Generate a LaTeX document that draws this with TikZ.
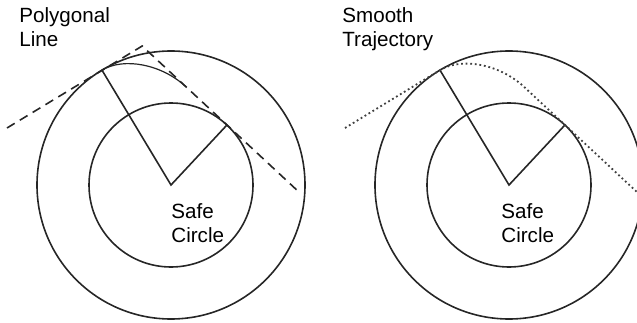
\documentclass[tikz,border=0pt]{standalone}
\usepackage{fontspec}
\setmainfont{Liberation Sans}
\usetikzlibrary{calc}

\begin{document}
\begin{tikzpicture}[
    x=0.5pt, y=0.5pt,
    font=\fontsize{10.3}{12}\selectfont,
    ring/.style={draw=black!85, line width=0.8pt},
    spoke/.style={draw=black!85, line width=0.8pt},
    polyline/.style={draw=black!85, line width=0.8pt, dash pattern=on 4.5pt off 3pt},
    smoothline/.style={draw=black!75, line width=0.9pt, dash pattern=on 0.9pt off 1.4pt},
    arcline/.style={draw=black!85, line width=0.6pt},
    tag/.style={align=left, anchor=base west, inner sep=0pt}
]
    \useasboundingbox (0,0) rectangle (637,322);
    \clip (0,0) rectangle (637,322);

    % Left panel: polygonal line
    \coordinate (c1) at (171,137);
    \coordinate (out1) at ($(c1)+(121:134)$);
    \coordinate (in1) at ($(c1)+(47:82)$);
    \coordinate (bend1) at ($(c1)+(-28.8,139)$);
    \coordinate (start1) at ($(c1)+(-164,57)$);
    \coordinate (end1) at ($(c1)+(129,-8)$);
    \coordinate (join1) at ($(c1)+(15.1,98.1)$);

    \draw [ring] (c1) circle (134);
    \draw [ring] (c1) circle (82);
    \draw [spoke] (out1) -- (c1) -- (in1);
    \draw [polyline] (start1) -- (bend1) -- (end1);
    \draw [arcline] (out1) .. controls ($(out1)!0.55!(bend1)$) and ($(join1)!0.55!(bend1)$) .. (join1);

    \node (poly) at (19,275) [tag] {Polygonal\\Line};
    \node (safe1) at (171,80) [tag] {Safe\\Circle};

    % Right panel: smooth trajectory
    \coordinate (c2) at (509,137);
    \coordinate (out2) at ($(c2)+(121:134)$);
    \coordinate (in2) at ($(c2)+(47:82)$);
    \coordinate (bend2) at ($(c2)+(-28.8,139)$);
    \coordinate (start2) at ($(c2)+(-164,57)$);
    \coordinate (end2) at ($(c2)+(129,-8)$);
    \coordinate (join2) at ($(c2)+(15.1,98.1)$);

    \draw [ring] (c2) circle (134);
    \draw [ring] (c2) circle (82);
    \draw [spoke] (out2) -- (c2) -- (in2);
    \draw [smoothline] (start2) -- (out2) .. controls ($(out2)!0.55!(bend2)$) and ($(join2)!0.55!(bend2)$) .. (join2) -- (end2);

    \node (smooth) at (342,275) [tag] {Smooth\\Trajectory};
    \node (safe2) at (501,80) [tag] {Safe\\Circle};
\end{tikzpicture}
\end{document}
